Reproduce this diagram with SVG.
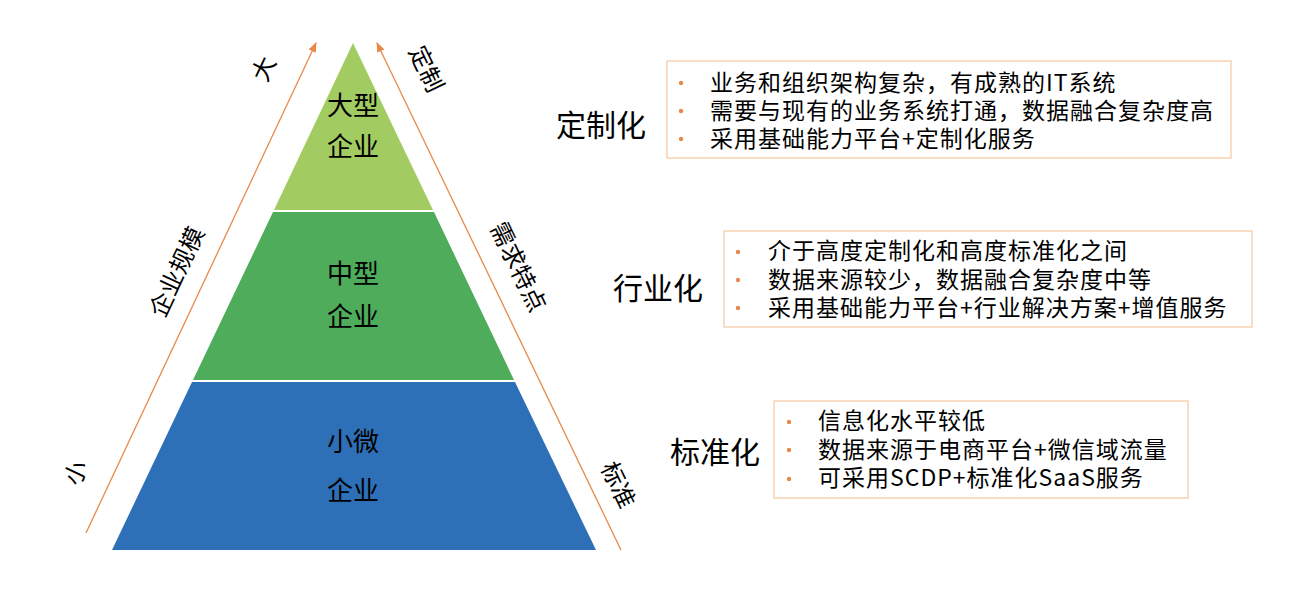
<svg xmlns="http://www.w3.org/2000/svg" width="1314" height="590" viewBox="0 0 1314 590">
<defs>
<marker id="arr" markerWidth="10" markerHeight="10" refX="9" refY="5" orient="auto" markerUnits="userSpaceOnUse">
<path d="M0,1 L10,5 L0,9 Z" fill="#E8894A"/>
</marker>
<style>
text{font-family:"Noto Sans CJK SC","Microsoft YaHei",sans-serif;fill:#000}
.seg{font-size:26px;text-anchor:middle}
.side{font-size:24px;text-anchor:middle;dominant-baseline:central}
.cat{font-size:30px}
.item{font-size:23px;letter-spacing:1px}
.box{fill:#fff;stroke:#F8CBA6;stroke-width:1.3}
.dot{fill:#E8894A}
.axis{stroke:#E8894A;stroke-width:1.3;fill:none}
</style>
</defs>
<rect width="1314" height="590" fill="#fff"/>

<g id="connectors">
<line class="axis" x1="86" y1="533" x2="316" y2="43" marker-end="url(#arr)"/>
<line class="axis" x1="621" y1="550" x2="377" y2="43" marker-end="url(#arr)"/>
</g>

<g id="level-large">
<polygon points="353,43 433,210 274,210" fill="#A2CB62"/>
<text class="seg" x="353" y="115">大型</text>
<text class="seg" x="353" y="156">企业</text>
</g>
<g id="level-medium">
<polygon points="273,212 434,212 514,380 193,380" fill="#4FAC5B"/>
<text class="seg" x="353" y="283">中型</text>
<text class="seg" x="353" y="326">企业</text>
</g>
<g id="level-small">
<polygon points="192,382 515,382 596,550 112,550" fill="#2E70B8"/>
<text class="seg" x="353" y="451">小微</text>
<text class="seg" x="353" y="500">企业</text>
</g>

<g id="axis-left-labels">
<text class="side" transform="translate(262,68) rotate(-64.9)">大</text>
<text class="side" transform="translate(175,271) rotate(-64.9)">企业规模</text>
<text class="side" transform="translate(74,472) rotate(-64.9)">小</text>
</g>
<g id="axis-right-labels">
<text class="side" transform="translate(428,68) rotate(64.3)">定制</text>
<text class="side" transform="translate(520,266) rotate(64.3)">需求特点</text>
<text class="side" transform="translate(620,484) rotate(64.3)">标准</text>
</g>

<g id="custom">
<text class="cat" x="556" y="136">定制化</text>
<rect class="box" x="667" y="61" width="564" height="97"/>
<circle class="dot" cx="681" cy="83" r="2.2"/>
<circle class="dot" cx="681" cy="111" r="2.2"/>
<circle class="dot" cx="681" cy="139" r="2.2"/>
<text class="item" x="710" y="91">业务和组织架构复杂，有成熟的IT系统</text>
<text class="item" x="710" y="119">需要与现有的业务系统打通，数据融合复杂度高</text>
<text class="item" x="710" y="147">采用基础能力平台+定制化服务</text>
</g>

<g id="industry">
<text class="cat" x="613" y="299">行业化</text>
<rect class="box" x="724" y="231" width="528" height="96"/>
<circle class="dot" cx="738" cy="252" r="2.2"/>
<circle class="dot" cx="738" cy="280" r="2.2"/>
<circle class="dot" cx="738" cy="308" r="2.2"/>
<text class="item" x="768" y="259">介于高度定制化和高度标准化之间</text>
<text class="item" x="768" y="288">数据来源较少，数据融合复杂度中等</text>
<text class="item" x="768" y="316">采用基础能力平台+行业解决方案+增值服务</text>
</g>

<g id="standard">
<text class="cat" x="670" y="463">标准化</text>
<rect class="box" x="774" y="401" width="414" height="97"/>
<circle class="dot" cx="789" cy="422" r="2.2"/>
<circle class="dot" cx="789" cy="450" r="2.2"/>
<circle class="dot" cx="789" cy="479" r="2.2"/>
<text class="item" x="818" y="429">信息化水平较低</text>
<text class="item" x="818" y="458">数据来源于电商平台+微信域流量</text>
<text class="item" x="818" y="486">可采用SCDP+标准化SaaS服务</text>
</g>
</svg>
